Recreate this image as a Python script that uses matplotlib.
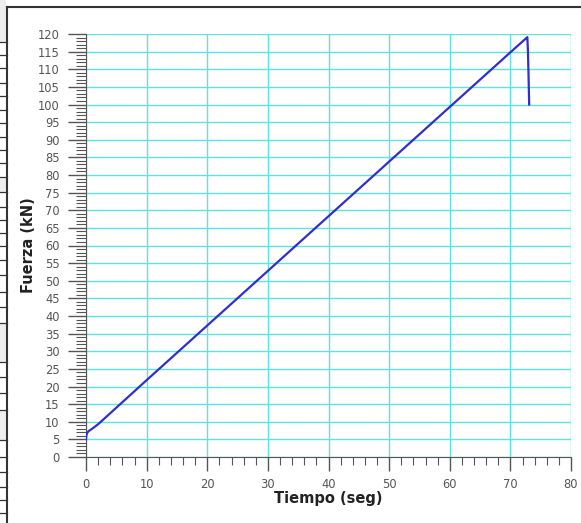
import matplotlib
matplotlib.use("Agg")
import matplotlib.pyplot as plt
from matplotlib.lines import Line2D
from matplotlib.patches import Rectangle
from matplotlib.ticker import MultipleLocator

plt.rcParams['font.family'] = ['DejaVu Sans']

tiempo = [0, 0.05, 0.15, 0.4, 1.0, 2.0, 10, 20, 30, 40, 50, 60, 70, 72.8, 72.9, 73.0, 73.1]
fuerza = [5.0, 6.0, 6.7, 7.3, 8.0, 9.3, 21.8, 37.3, 52.8, 68.3, 83.8, 99.3, 114.8, 119.1, 115, 108, 100]

W, H = 581, 523
fig = plt.figure(figsize=(W / 100, H / 100), dpi=100)
ax = fig.add_axes([86 / W, 1 - 457 / H, (571 - 86) / W, (457 - 34) / H])

ax.plot(tiempo, fuerza, color='#2f2fcf', lw=1.6, zorder=3)

ax.set_xlim(0, 80)
ax.set_ylim(0, 120)
ax.xaxis.set_major_locator(MultipleLocator(10))
ax.xaxis.set_minor_locator(MultipleLocator(2))
ax.yaxis.set_major_locator(MultipleLocator(5))
ax.yaxis.set_minor_locator(MultipleLocator(1))

ax.grid(True, which='major', color='#60e2e2', lw=1.0)
ax.set_axisbelow(True)

# sin borde arriba / derecha
ax.spines['top'].set_visible(False)
ax.spines['right'].set_visible(False)
ax.spines['left'].set_color('#555555')
ax.spines['bottom'].set_color('#555555')

ax.tick_params(axis='y', which='major', length=13, width=1, color='#555555', pad=6,
               labelsize=8.3, labelcolor='#555555')
ax.tick_params(axis='y', which='minor', length=7, width=0.8, color='#555555')
ax.tick_params(axis='x', which='major', length=10, width=1, color='#555555', pad=5,
               labelsize=8.3, labelcolor='#555555')
ax.tick_params(axis='x', which='minor', length=6, width=0.8, color='#555555')

ax.set_xlabel('Tiempo (seg)', fontsize=10.5, fontweight='bold', color='#222222', labelpad=0)
ax.set_ylabel('Fuerza (kN)', fontsize=10.5, fontweight='bold', color='#222222', labelpad=1.5)

# marco del documento alrededor
def fy(p):
    return 1 - p / H

fig.add_artist(Line2D([7 / W, 1], [fy(7), fy(7)], color='#333333', lw=1.5))
fig.add_artist(Line2D([7 / W, 7 / W], [0, fy(7)], color='#333333', lw=1.5))
for y0, y1 in [(0, 42), (177, 192), (323, 362), (410, 440)]:
    fig.add_artist(Rectangle((0, fy(y1)), 6 / W, (y1 - y0) / H, color='#eeeeee', lw=0))
filas = [42, 55, 68, 83, 96, 110, 123, 137, 150, 163, 177, 192, 207, 220, 233,
         246, 260, 275, 292, 307, 323, 362, 377, 393, 410, 440, 457, 472, 487, 500, 513]
for p in filas:
    fig.add_artist(Line2D([0, 7 / W], [fy(p), fy(p)], color='#333333', lw=0.9))

fig.savefig('out.png', dpi=100)
